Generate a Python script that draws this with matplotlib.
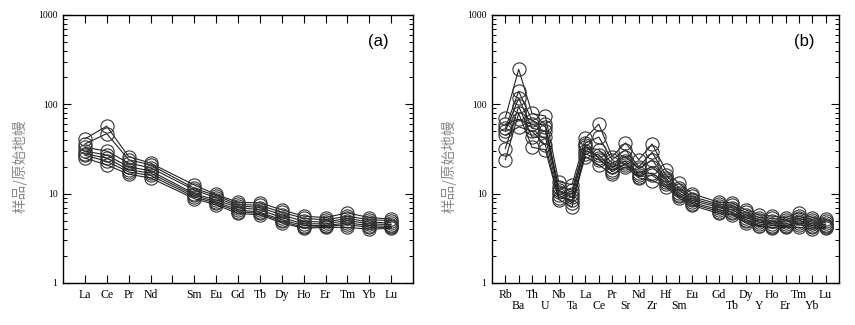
import matplotlib.pyplot as plt
import matplotlib.transforms as mtransforms

# panel (a): REE pattern, Pm left blank
ree_labels = ["La", "Ce", "Pr", "Nd", "", "Sm", "Eu", "Gd", "Tb", "Dy", "Ho", "Er", "Tm", "Yb", "Lu"]
ree_pos = [1, 2, 3, 4, 6, 7, 8, 9, 10, 11, 12, 13, 14, 15]

ree_samples = [
    [41, 57, 26, 22, 12.5, 9.8, 8.0, 7.9, 6.6, 5.6, 5.4, 6.1, 5.4, 5.2],
    [36, 47, 24, 21, 11.5, 9.5, 7.6, 7.4, 6.2, 5.3, 5.1, 5.6, 5.1, 5.0],
    [33, 30, 22, 19.5, 11.0, 9.0, 7.3, 7.0, 5.8, 4.9, 4.8, 5.3, 4.8, 4.7],
    [30, 27, 20, 18, 10.0, 8.5, 7.0, 6.6, 5.4, 4.6, 4.6, 5.0, 4.6, 4.5],
    [28, 25, 18.5, 17, 9.6, 8.1, 6.6, 6.2, 5.1, 4.4, 4.4, 4.7, 4.4, 4.3],
    [27, 23, 17.5, 16, 9.2, 7.8, 6.3, 6.0, 4.9, 4.2, 4.3, 4.5, 4.2, 4.2],
    [25, 21, 16.5, 15, 8.8, 7.5, 6.0, 5.8, 4.7, 4.1, 4.2, 4.2, 4.0, 4.1],
]

# panel (b): spider diagram, one blank slot between Eu and Gd
spider_top = ["Rb", "", "Th", "", "Nb", "", "La", "", "Pr", "", "Nd", "", "Hf", "", "Eu", "",
              "Gd", "", "Dy", "", "Ho", "", "Tm", "", "Lu"]
spider_bottom = ["", "Ba", "", "U", "", "Ta", "", "Ce", "", "Sr", "", "Zr", "", "Sm", "", "",
                 "", "Tb", "", "Y", "", "Er", "", "Yb", ""]
spider_pos = list(range(1, 16)) + list(range(17, 26))

spider_samples = [
    [71, 247, 79, 74, 13.6, 12.6, 42, 60, 26, 37, 24, 36, 18.4, 13.0, 10.0, 8.0, 7.9, 6.6, 5.8, 5.6, 5.4, 6.1, 5.4, 5.2],
    [54, 140, 66, 56, 11.9, 11.0, 37, 43, 24, 31, 20, 29, 16.3, 11.7, 9.3, 7.6, 7.4, 6.2, 5.4, 5.3, 5.1, 5.6, 5.1, 5.0],
    [50, 117, 54, 50, 11.0, 9.2, 33, 31, 22, 26, 19, 24, 15.0, 11.0, 8.8, 7.3, 7.0, 5.8, 5.1, 4.9, 4.8, 5.3, 4.8, 4.7],
    [32, 95, 43, 43, 9.7, 7.9, 30, 27, 20, 23, 17, 20, 14.3, 10.2, 8.4, 7.0, 6.6, 5.4, 4.8, 4.6, 4.6, 5.0, 4.6, 4.5],
    [24, 79, 33, 31, 8.6, 7.1, 28, 24, 18.5, 21, 16, 17, 13.5, 9.7, 8.0, 6.6, 6.2, 5.1, 4.6, 4.4, 4.4, 4.7, 4.4, 4.3],
    [60, 68, 60, 60, 10.5, 10.0, 35, 25, 17.5, 22, 15.5, 16, 12.7, 9.3, 7.7, 6.3, 6.0, 4.9, 4.4, 4.2, 4.3, 4.5, 4.2, 4.2],
    [45, 56, 50, 35, 9.0, 8.5, 26, 21, 16.5, 20, 15, 14, 12.0, 8.9, 7.4, 6.0, 5.8, 4.7, 4.3, 4.1, 4.2, 4.2, 4.0, 4.1],
]

ylabel = "样品/原始地幔"
serif = ["Liberation Serif", "DejaVu Serif"]
cjk = ["Noto Sans CJK SC", "DejaVu Sans"]


def style_axis(ax, n_slots, tag):
    ax.set_yscale("log")
    ax.set_ylim(1, 1000)
    ax.set_xlim(0, n_slots + 1)
    ax.set_xticks(range(1, n_slots + 1))
    ax.set_yticks([1, 10, 100, 1000])
    ax.set_yticklabels(["1", "10", "100", "1000"], family=serif, fontsize=7)
    ax.tick_params(axis="both", which="major", direction="in", top=True, right=True,
                   length=6, width=0.8, pad=4)
    ax.tick_params(axis="y", which="minor", direction="in", right=True, length=3, width=0.7)
    ax.tick_params(axis="x", which="minor", bottom=False, top=False)
    for s in ax.spines.values():
        s.set_linewidth(1.0)
    ax.text(0.93, 0.9, tag, transform=ax.transAxes, ha="right", va="center",
            fontsize=12, family=["Liberation Sans", "DejaVu Sans"])


fig = plt.figure(figsize=(8.55, 3.25), dpi=100)
ax_a = fig.add_axes([63 / 855, 1 - 283 / 325, 350 / 855, 268 / 325])
ax_b = fig.add_axes([492 / 855, 1 - 283 / 325, 347 / 855, 268 / 325])

for values in ree_samples:
    ax_a.plot(ree_pos, values, color="#222222", lw=0.8, marker="o", ms=9.5,
              mfc="none", mec="#333333", mew=0.8)
style_axis(ax_a, 15, "(a)")
ax_a.set_xticklabels(ree_labels, family=serif, fontsize=8.5)

for values in spider_samples:
    ax_b.plot(spider_pos, values, color="#222222", lw=0.8, marker="o", ms=9.5,
              mfc="none", mec="#333333", mew=0.8)
style_axis(ax_b, 25, "(b)")
ax_b.set_xticklabels(spider_top, family=serif, fontsize=8.5)
# second row of element names under the first row
trans = mtransforms.blended_transform_factory(ax_b.transData, ax_b.transAxes)
for x, name in zip(range(1, 26), spider_bottom):
    if name:
        ax_b.text(x, -0.065, name, transform=trans, ha="center", va="top",
                  family=serif, fontsize=8.5)

# vertical y labels placed by hand, slightly below the axes centre as in the source
for xpix in (20, 449):
    fig.text(xpix / 855, 1 - 166 / 325, ylabel, rotation=90, ha="center", va="center",
             family=cjk, fontsize=10.5, color="#8a8a8a")

fig.savefig("out.png", dpi=100)
